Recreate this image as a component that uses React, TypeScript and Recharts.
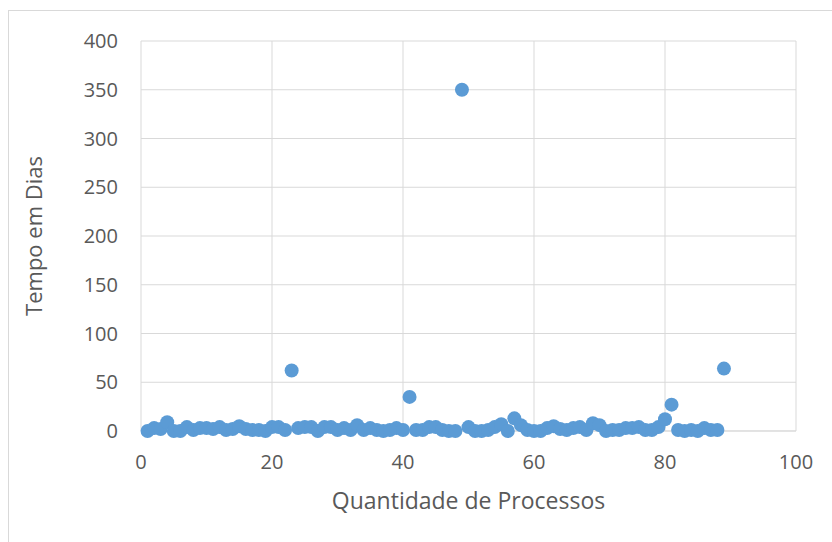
import {
  CartesianGrid,
  Label,
  Scatter,
  ScatterChart,
  XAxis,
  YAxis,
} from "recharts";

// Processos numbered 1..89, tempo (dias)
const processos = Array.from({ length: 89 }, (_, i) => i + 1);
const tempoDias = [
  0, 3, 2, 9, 0, 0, 4, 1, 3, 3,
  2, 4, 1, 2, 5, 2, 1, 1, 0, 4,
  4, 1, 62, 3, 4, 4, 0, 4, 4, 1,
  3, 1, 6, 1, 3, 1, 0, 1, 3, 1,
  35, 1, 1, 4, 4, 1, 0, 0, 350, 4,
  0, 0, 1, 4, 7, 0, 13, 6, 1, 0,
  0, 3, 5, 2, 1, 3, 4, 1, 8, 6,
  0, 1, 1, 3, 3, 4, 1, 1, 4, 12,
  27, 1, 0, 1, 0, 3, 1, 1, 64,
];

const xTicks = [0, 20, 40, 60, 80, 100];
const yTicks = [0, 50, 100, 150, 200, 250, 300, 350, 400];

const font = "'Open Sans', 'Liberation Sans', sans-serif";
const tickColor = "#595959";
const gridColor = "#d9d9d9";
const pointColor = "#5b9bd5";

const data = processos.map((x, i) => ({ x, y: tempoDias[i] }));

function YTitle(props: any) {
  const { viewBox } = props;
  const cx = 33;
  const cy = viewBox.y + viewBox.height / 2;
  return (
    <text
      x={cx}
      y={cy}
      transform={`rotate(-90, ${cx}, ${cy})`}
      textAnchor="middle"
      dominantBaseline="central"
      fill={tickColor}
      fontSize={22}
      fontFamily={font}
    >
      Tempo em Dias
    </text>
  );
}

function XTitle(props: any) {
  const { viewBox } = props;
  return (
    <text
      x={viewBox.x + viewBox.width / 2}
      y={500}
      textAnchor="middle"
      dominantBaseline="central"
      fill={tickColor}
      fontSize={23}
      fontFamily={font}
    >
      Quantidade de Processos
    </text>
  );
}

export default function App() {
  return (
    <div
      style={{
        position: "absolute",
        left: 0,
        top: 0,
        width: 832,
        height: 542,
        overflow: "hidden",
        background: "#fff",
      }}
    >
      <div
        style={{
          position: "absolute",
          left: 8,
          top: 10,
          width: 900,
          height: 600,
          border: `1px solid ${gridColor}`,
        }}
      />
      <div style={{ position: "absolute", left: 0, top: 0 }}>
        <ScatterChart
          width={832}
          height={542}
          margin={{ top: 41, right: 36, bottom: 0, left: 0 }}
        >
          <CartesianGrid stroke={gridColor} strokeWidth={1} />
          <XAxis
            type="number"
            dataKey="x"
            domain={[0, 100]}
            ticks={xTicks}
            height={111}
            axisLine={{ stroke: gridColor }}
            tickLine={false}
            tickMargin={18}
            tick={{ fill: tickColor, fontSize: 20, fontFamily: font }}
          >
            <Label content={XTitle} />
          </XAxis>
          <YAxis
            type="number"
            dataKey="y"
            domain={[0, 400]}
            ticks={yTicks}
            width={141}
            axisLine={false}
            tickLine={false}
            tickMargin={17}
            tick={{ fill: tickColor, fontSize: 20, fontFamily: font }}
          >
            <Label content={YTitle} />
          </YAxis>
          <Scatter
            data={data}
            fill={pointColor}
            isAnimationActive={false}
            shape={(p: any) => <circle cx={p.cx} cy={p.cy} r={7} fill={pointColor} />}
          />
        </ScatterChart>
      </div>
    </div>
  );
}
